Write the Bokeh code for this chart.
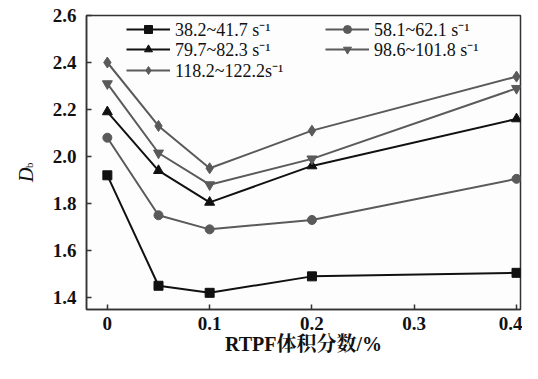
from bokeh.plotting import figure
from bokeh.models import Range1d, FixedTicker, Legend, LegendItem, LinearAxis
from bokeh.embed import file_html
from bokeh.resources import INLINE

x = [0, 0.05, 0.1, 0.2, 0.4]
s1 = [1.92, 1.45, 1.42, 1.49, 1.505]
s2 = [2.08, 1.75, 1.69, 1.73, 1.905]
s3 = [2.19, 1.94, 1.805, 1.96, 2.16]
s4 = [2.31, 2.015, 1.88, 1.99, 2.29]
s5 = [2.40, 2.13, 1.95, 2.11, 2.34]
names = ["38.2~41.7 s\u207b\u00b9", "58.1~62.1 s\u207b\u00b9", "79.7~82.3 s\u207b\u00b9",
         "98.6~101.8 s\u207b\u00b9", "118.2~122.2s\u207b\u00b9"]
xticks = [0, 0.1, 0.2, 0.3, 0.4]
yticks = [1.4, 1.6, 1.8, 2.0, 2.2, 2.4, 2.6]
ylabels = ["1.4", "1.6", "1.8", "2.0", "2.2", "2.4", "2.6"]
xlabel = "RTPF体积分数/%"
ylabel_main = "D"
ylabel_sub = "b"

SERIF = "Liberation Serif, Noto Serif CJK SC, Noto Sans CJK SC"
NB = "\u00a0"

p = figure(width=522, height=363, output_backend="svg", toolbar_location=None,
           x_range=Range1d(-0.02039, 0.40388), y_range=Range1d(1.349, 2.6),
           min_border_left=83, min_border_top=15, min_border_bottom=54, min_border_right=2)
p.outline_line_color = "#333333"
p.outline_line_width = 1.5
p.xgrid.visible = False
p.ygrid.visible = False
p.background_fill_color = "#fdfdfd"

for ax in (p.xaxis[0], p.yaxis[0]):
    ax.major_tick_in = 5
    ax.major_tick_out = 0
    ax.minor_tick_in = 0
    ax.minor_tick_out = 0
    ax.axis_line_color = "#333333"
    ax.axis_line_width = 1.5
    ax.major_tick_line_color = "#333333"
    ax.major_tick_line_width = 1.5
    ax.major_label_text_font = SERIF
    ax.major_label_text_font_style = "bold"
    ax.major_label_text_font_size = "19px"
    ax.major_label_text_color = "#111111"

p.xaxis.ticker = FixedTicker(ticks=xticks)
p.yaxis.ticker = FixedTicker(ticks=yticks)
p.xaxis.major_label_overrides = {0: "0"}
p.yaxis.major_label_overrides = {t: s for t, s in zip(yticks, ylabels)}
p.xaxis.major_label_standoff = 7
p.yaxis.major_label_standoff = 10
p.xaxis.axis_label = xlabel
p.xaxis.axis_label_text_font = SERIF
p.xaxis.axis_label_text_font_style = "bold"
p.xaxis.axis_label_text_font_size = "20px"
p.xaxis.axis_label_standoff = 0
p.xaxis.axis_label_text_color = "#111111"

# subscript "b" axis (closer to frame), then main "D" axis
def label_axis(text, size, style, standoff):
    a = LinearAxis(ticker=FixedTicker(ticks=[]), axis_line_color=None,
                   major_tick_line_color=None, minor_tick_line_color=None,
                   major_label_text_font_size="0px", major_label_standoff=0,
                   axis_label=text, axis_label_text_font=SERIF,
                   axis_label_orientation=1.5708,
                   axis_label_text_font_size=size, axis_label_text_font_style=style,
                   axis_label_standoff=standoff, axis_label_text_color="#111111")
    p.add_layout(a, "left")
    return a

label_axis(NB * 4 + ylabel_sub, "11px", "normal", 21)
label_axis(ylabel_main + NB, "20px", "italic", -12)

black = "#111111"
gray = "#5a5a5a"
r1l = p.line(x, s1, line_color=black, line_width=2)
r1m = p.scatter(x, s1, marker="square", size=9, color=black)
r2l = p.line(x, s2, line_color=gray, line_width=2)
r2m = p.scatter(x, s2, marker="circle", size=9, color=gray)
r3l = p.line(x, s3, line_color=black, line_width=2)
r3m = p.scatter(x, s3, marker="triangle", size=10, color=black)
r4l = p.line(x, s4, line_color=gray, line_width=2)
r4m = p.scatter(x, s4, marker="inverted_triangle", size=10, color=gray)
r5l = p.line(x, s5, line_color=gray, line_width=2)
r5m = p.scatter(x, s5, marker="diamond", size=11, color=gray)

rends = [[r1l, r1m], [r2l, r2m], [r3l, r3m], [r4l, r4m], [r5l, r5m]]
rows = [[0, 1], [2, 3], [4]]
row_y = [268, 248, 227]
for idxs, yy in zip(rows, row_y):
    lg = Legend(items=[LegendItem(label=names[i], renderers=rends[i]) for i in idxs],
                orientation="horizontal", location=(40, yy), padding=0, margin=0, spacing=0,
                glyph_width=44, glyph_height=20, label_height=20, label_width=150,
                label_standoff=5, label_text_font=SERIF, label_text_font_size="18px",
                label_text_color="#111111", background_fill_alpha=0, border_line_alpha=0)
    p.add_layout(lg, "center")

open("out.html", "w").write(file_html(p, INLINE))
